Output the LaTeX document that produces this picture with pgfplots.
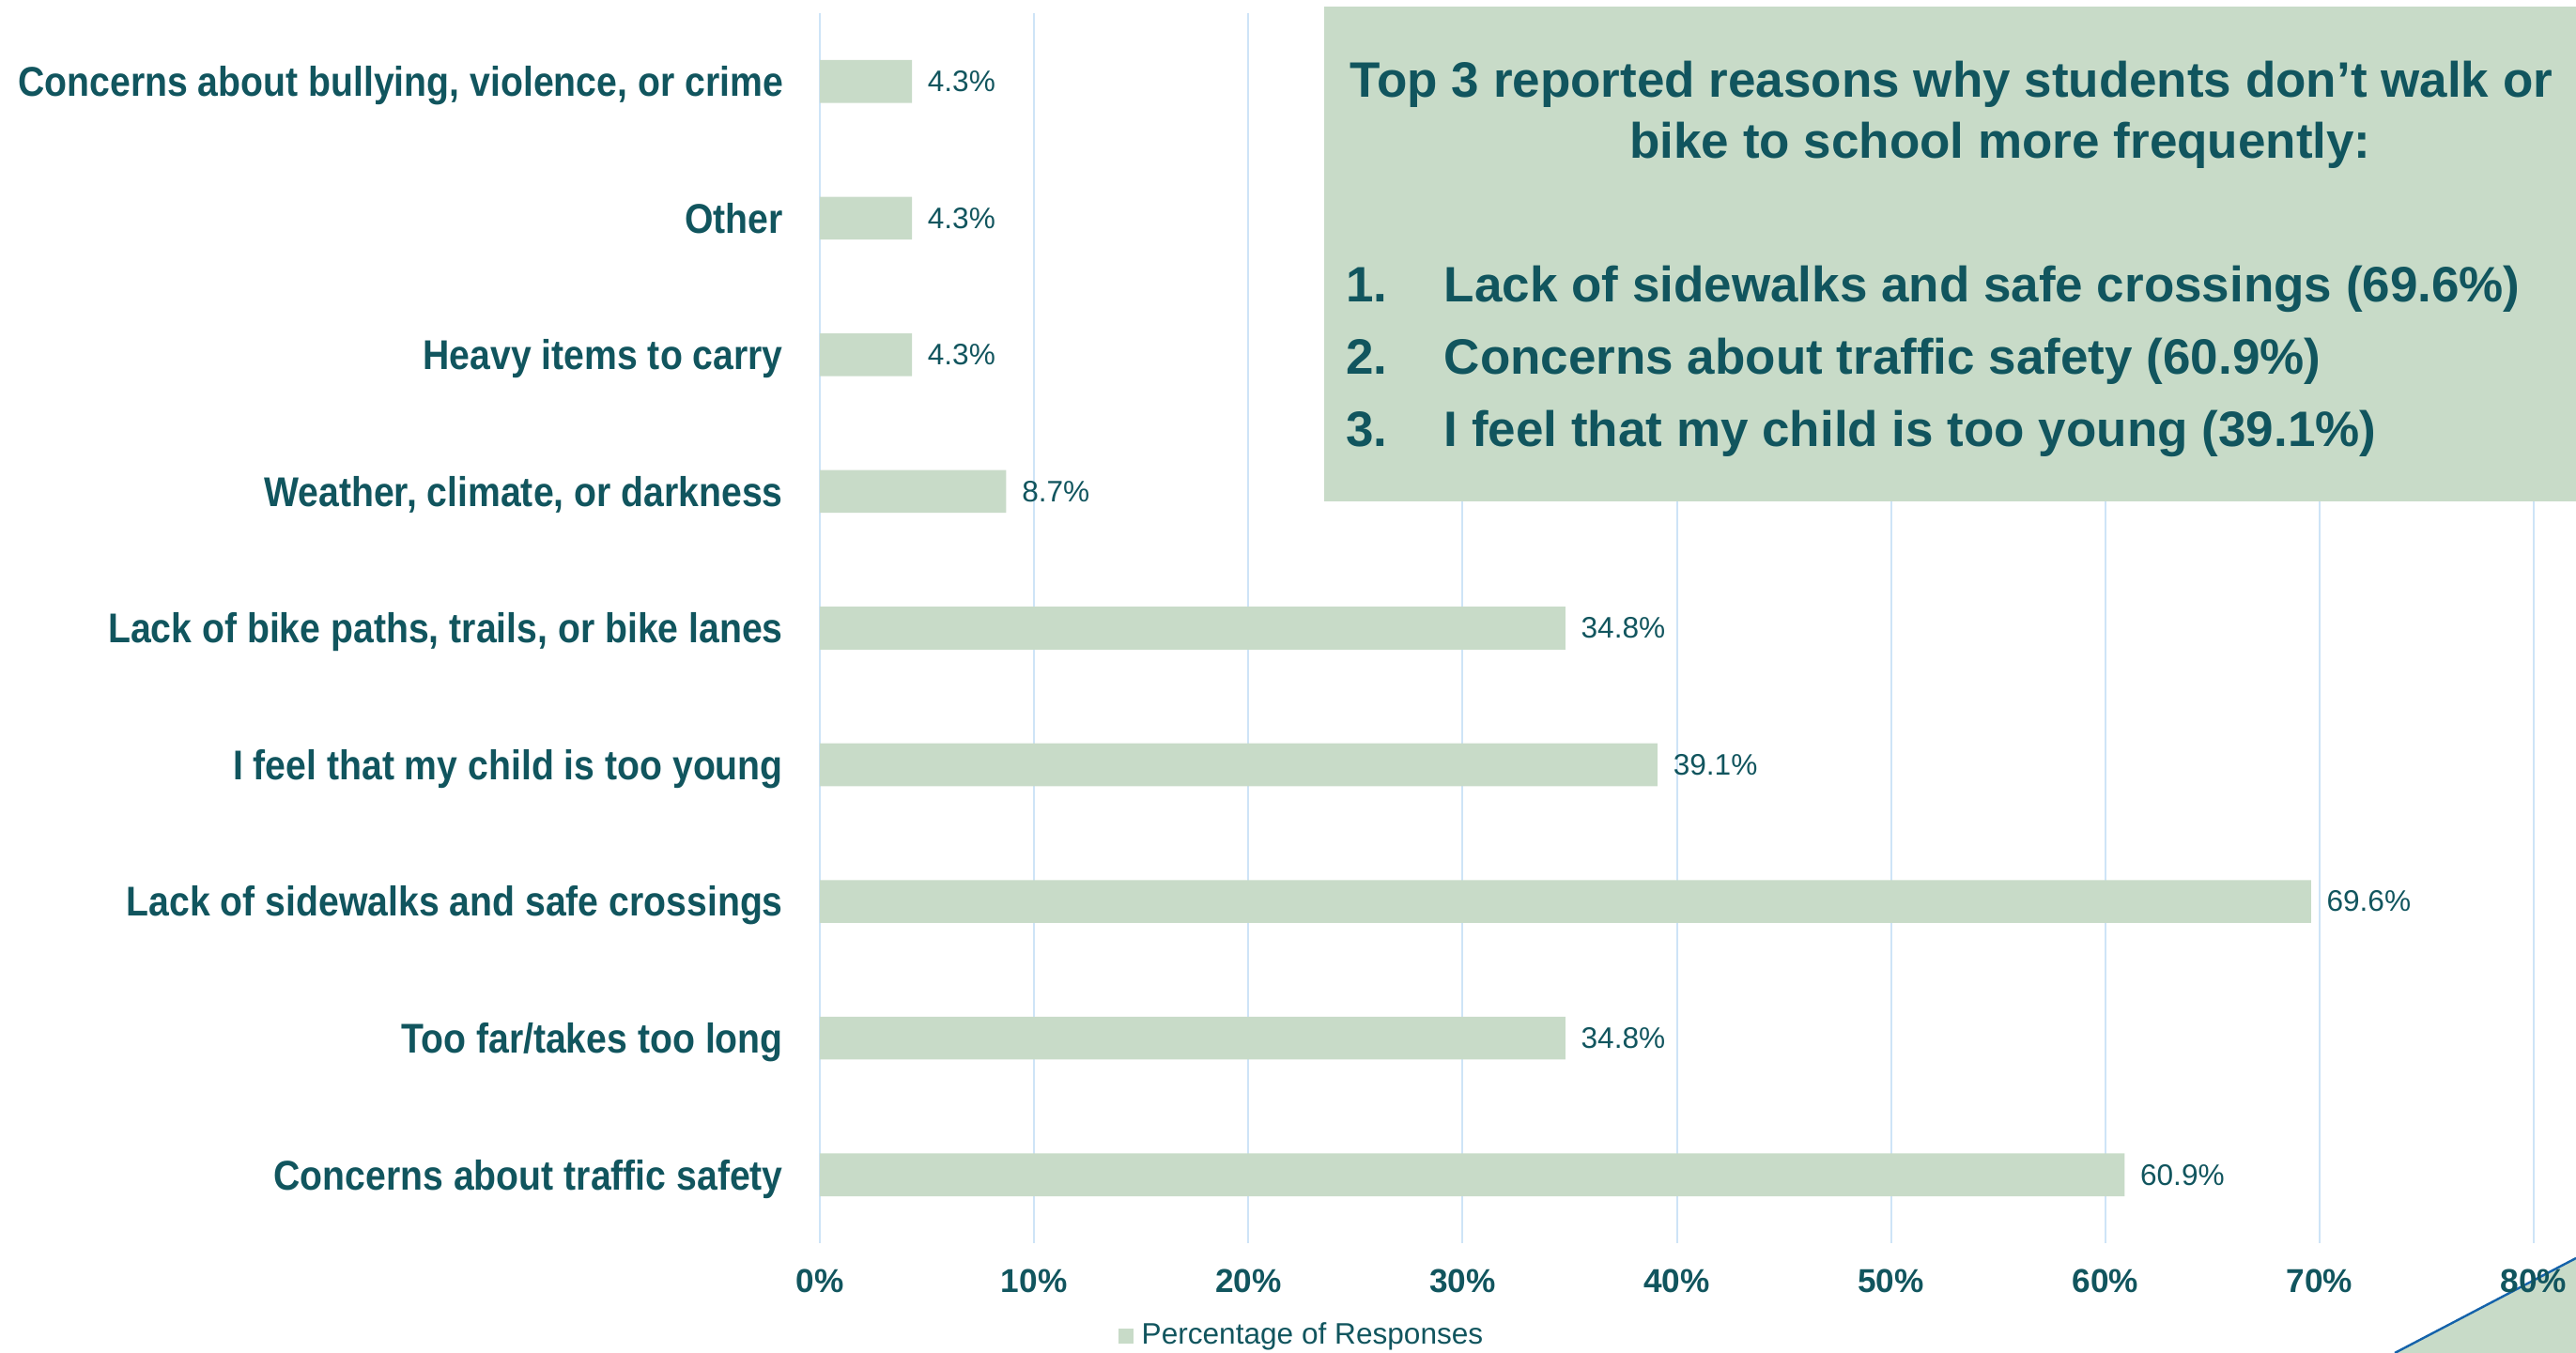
\documentclass[border=0pt]{standalone}
\usepackage{fontspec}
\setmainfont{Liberation Sans}
\newfontfamily\catfont[FakeStretch=0.885]{Liberation Sans}
\usepackage{pgfplots}
\pgfplotsset{compat=1.18}
\definecolor{tealtxt}{RGB}{17,85,94}
\definecolor{barcol}{RGB}{200,219,200}
\definecolor{gridblue}{RGB}{206,228,247}
\definecolor{blueline}{RGB}{20,98,170}
\begin{document}
\begin{tikzpicture}
\useasboundingbox (0pt,0pt) rectangle (685.75pt,360.25pt);
\fill[barcol] (637.5pt,0pt) -- (685.75pt,25.25pt) -- (685.75pt,0pt) -- cycle;
\draw[blueline, line width=0.6pt] (637.5pt,0pt) -- (685.75pt,25.25pt);
\begin{axis}[
  at={(218.25pt,29.25pt)}, anchor=south west,
  scale only axis, width=456.25pt, height=327.5pt,
  xmin=0, xmax=80, ymin=-0.5, ymax=8.5,
  xbar, bar width=11.4pt,
  axis line style={draw=none},
  major tick length=0pt,
  xmajorgrids, ymajorgrids=false,
  major grid style={draw=gridblue, line width=0.5pt},
  xtick={0,10,...,80},
  xticklabels={0\%,10\%,20\%,30\%,40\%,50\%,60\%,70\%,80\%},
  xticklabel style={font=\fontsize{8.8}{10}\selectfont\bfseries, text=tealtxt, inner sep=0pt, yshift=-6.9pt},
  ytick={0,...,8},
  yticklabels={Concerns about traffic safety, Too far/takes too long, Lack of sidewalks and safe crossings, I feel that my child is too young, {Lack of bike paths, trails, or bike lanes}, {Weather, climate, or darkness}, Heavy items to carry, Other, {Concerns about bullying, violence, or crime}},
  yticklabel style={font=\catfont\fontsize{11.07}{13}\selectfont\bfseries, text=tealtxt, inner sep=0pt, anchor=base east, xshift=-9.6pt, yshift=-3.95pt},
  /pgf/number format/assume math mode=true,
  point meta=x,
  nodes near coords={\pgfmathprintnumber[fixed,fixed zerofill,precision=1]{\pgfplotspointmeta}\%},
  nodes near coords style={font=\fontsize{7.9}{9.5}\selectfont, text=tealtxt, anchor=west, inner sep=0pt, xshift=4pt},
  legend style={at={(0.1742,-0.0756)}, anchor=west, draw=none, fill=none, inner sep=0pt, outer sep=0pt,
    font=\fontsize{7.9}{9.5}\selectfont, text=tealtxt, nodes={inner sep=0pt}},
  legend image code/.code={\fill[barcol] (0pt,-2pt) rectangle (4pt,2pt);},
]
\addplot[fill=barcol, draw=none] coordinates {(60.9,0) (34.8,1) (69.6,2) (39.1,3) (34.8,4) (8.7,5) (4.3,6) (4.3,7) (4.3,8)};
\addlegendentry{\hspace{2.2pt}Percentage of Responses}
\end{axis}
\fill[barcol] (352.5pt,226.75pt) rectangle (685.75pt,358.5pt);
\begin{scope}[every node/.style={inner sep=0pt, text=tealtxt, font=\fontsize{13.25}{15}\selectfont\bfseries}]
\node[anchor=base] at (519.5pt,334.25pt) {Top 3 reported reasons why students don’t walk or};
\node[anchor=base] at (532.5pt,318pt) {bike to school more frequently:};
\node[anchor=base west] at (358.1pt,279.75pt) {1.};
\node[anchor=base west] at (384.25pt,279.75pt) {Lack of sidewalks and safe crossings (69.6\%)};
\node[anchor=base west] at (358.1pt,260.5pt) {2.};
\node[anchor=base west] at (384.25pt,260.5pt) {Concerns about traffic safety (60.9\%)};
\node[anchor=base west] at (358.1pt,241.25pt) {3.};
\node[anchor=base west] at (384.25pt,241.25pt) {I feel that my child is too young (39.1\%)};
\end{scope}
\end{tikzpicture}
\end{document}
